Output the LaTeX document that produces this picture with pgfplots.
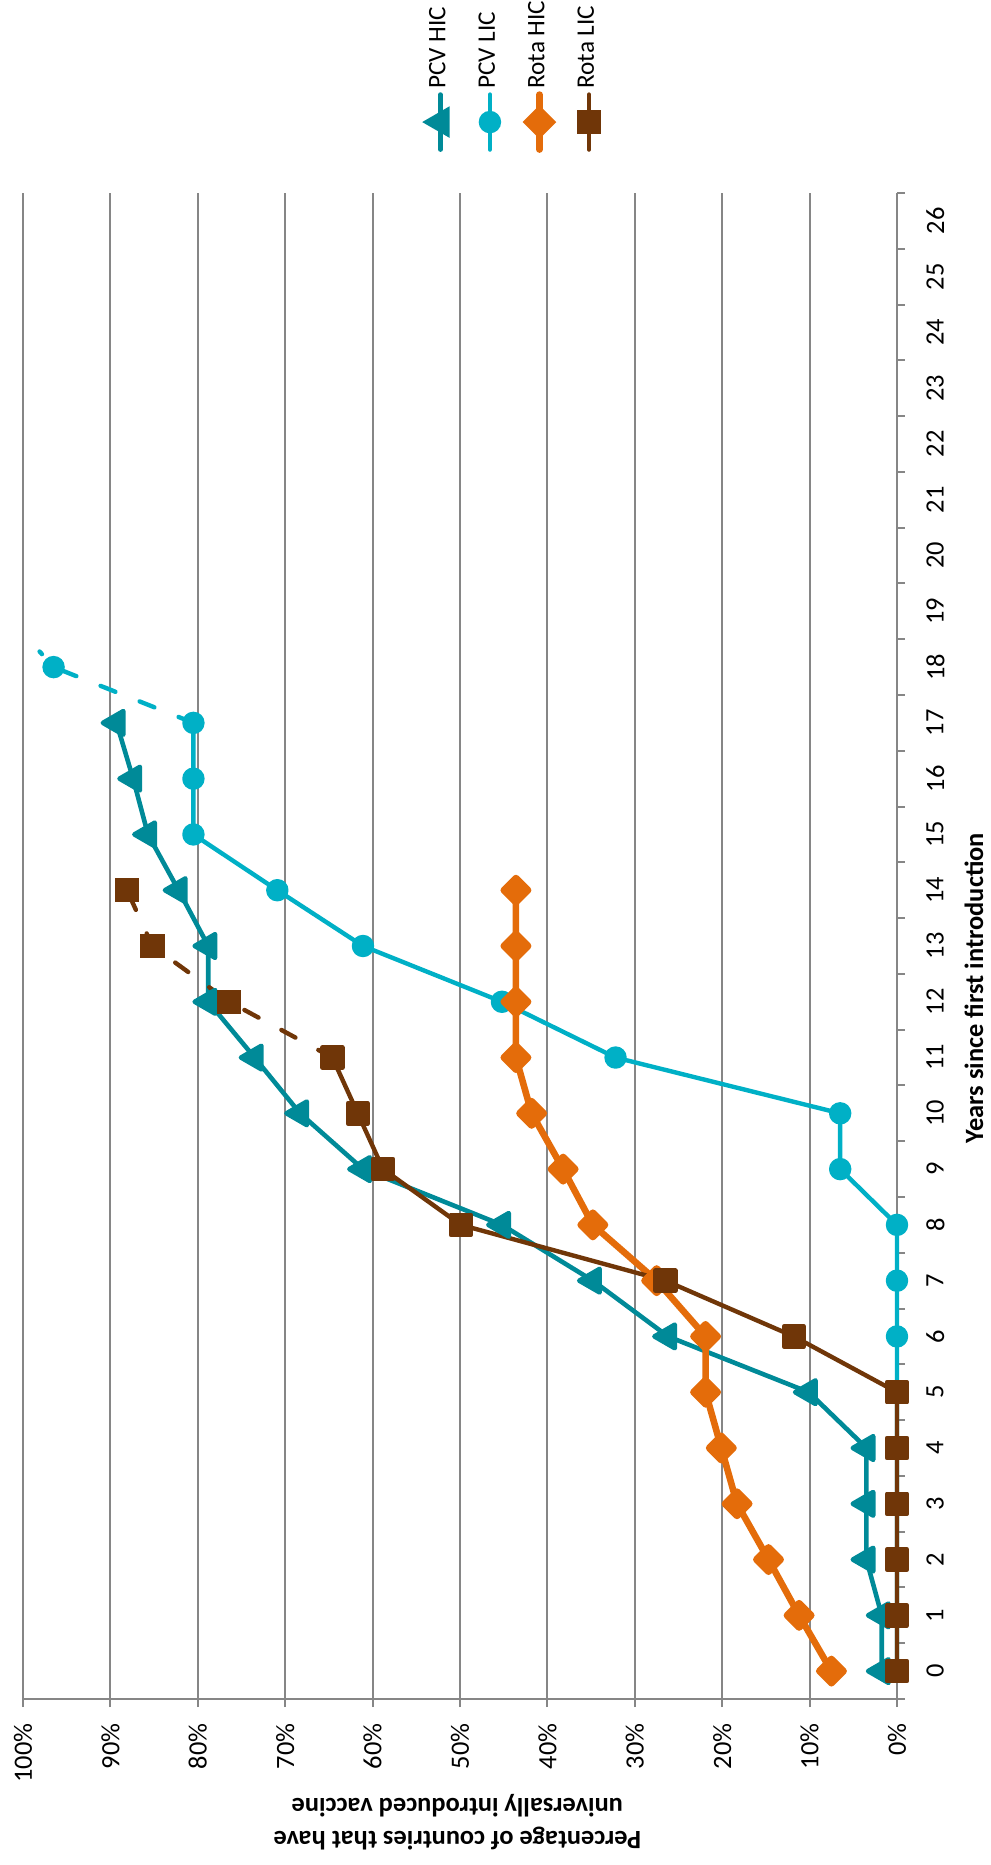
\documentclass[border=0pt]{standalone}
\usepackage{fontspec}
\setmainfont{Carlito}
\usepackage{pgfplots}
\pgfplotsset{compat=1.18}
\definecolor{pcvhic}{RGB}{0,138,152}
\definecolor{pcvlic}{RGB}{0,176,198}
\definecolor{rotahic}{RGB}{228,108,10}
\definecolor{rotalic}{RGB}{112,54,8}
\definecolor{gridgray}{RGB}{134,134,134}
\begin{document}
\begin{tikzpicture}
\useasboundingbox (-11.5pt,-83pt) rectangle (484pt,849.5pt);
\begin{axis}[
  at={(0pt,0pt)}, anchor=south west,
  scale only axis, width=437pt, height=753pt,
  xmin=0, xmax=100, ymin=-0.5, ymax=26.5,
  x dir=reverse,
  clip=false,
  axis x line*=bottom, axis y line*=right,
  axis line style={gridgray, line width=1pt},
  xtick={0,10,20,30,40,50,60,70,80,90,100},
  xticklabels={0\%,10\%,20\%,30\%,40\%,50\%,60\%,70\%,80\%,90\%,100\%},
  ytick={0,1,...,26},
  minor xtick={0,10,20,30,40,50,60,70,80,90,100},
  minor ytick={-0.5,0.5,...,26.5},
  major tick length=0pt, minor tick length=4pt,
  tick align=outside,
  tick style={gridgray, line width=1pt},
  xmajorgrids, major grid style={gridgray, line width=1pt},
  /pgf/number format/assume math mode=true,
  tick label style={font=\fontsize{13.2}{15}\selectfont},
  xticklabel style={rotate=90, anchor=east, inner sep=12pt},
  yticklabel style={rotate=90, anchor=north, inner sep=14.5pt},
  every axis x label/.style={at={(axis description cs:0.497,-0.0820)}, anchor=center, rotate=180, align=center, font=\bfseries\fontsize{13.2}{16.5}\selectfont},
  every axis y label/.style={at={(axis description cs:1.0881,0.472)}, anchor=center, rotate=90, font=\bfseries\fontsize{13.2}{15}\selectfont},
  xlabel={Percentage of countries that have\\universally introduced vaccine},
  ylabel={Years since first introduction},
  legend image code/.code={\begin{scope}[overlay]\draw[mark repeat=2,mark phase=2,#1] plot coordinates {(14pt,-3pt) (14pt,-16.75pt) (14pt,-30.5pt)};\end{scope}},
  legend columns=4,
  legend style={at={(axis description cs:0.4451,1.0651)}, anchor=south west, draw=none, fill=none, inner sep=0pt, column sep=6.75pt,
    cells={anchor=base west},
    nodes={inner sep=1.5pt, font=\fontsize{12.6}{15}\selectfont}},
]
\addlegendimage{pcvhic, line width=2.3pt, line cap=round, mark=triangle*, mark size=6.8pt, mark options={solid, rotate=90}}
\addlegendentry{\rotatebox{90}{PCV HIC}}
\addlegendimage{pcvlic, line width=2.2pt, line cap=round, mark=*, mark size=4.5pt, mark options={solid}}
\addlegendentry{\rotatebox{90}{PCV LIC}}
\addlegendimage{rotahic, line width=3.3pt, line cap=round, mark=square*, mark size=4.3pt, mark options={solid, rotate=45}}
\addlegendentry{\rotatebox{90}{Rota HIC}}
\addlegendimage{rotalic, line width=2.2pt, line cap=round, mark=square*, mark size=5pt, mark options={solid}}
\addlegendentry{\rotatebox{90}{Rota LIC}}

% PCV HIC
\addplot[forget plot, pcvhic, line width=2.3pt, line join=round, mark=triangle*, mark size=6.8pt, mark options={solid, rotate=90}] coordinates {
(1.75,0) (1.75,1) (3.5,2) (3.5,3) (3.5,4) (10.1,5) (26.2,6) (34.8,7) (45.2,8) (61.1,9) (68.3,10) (73.5,11) (78.8,12) (78.8,13) (82.2,14) (85.7,15) (87.4,16) (89.3,17)};
% PCV LIC
\addplot[forget plot, pcvlic, line width=2.2pt, line join=round, mark=*, mark size=4.5pt, mark options={solid}] coordinates {
(0,0) (0,1) (0,2) (0,3) (0,4) (0,5) (0,6) (0,7) (0,8) (6.5,9) (6.5,10) (32.2,11) (45.2,12) (61.1,13) (70.9,14) (80.5,15) (80.5,16) (80.5,17)};
\addplot[forget plot, pcvlic, line width=2.2pt, line cap=round, dash pattern=on 8pt off 13pt, mark=*, mark size=4.5pt, mark options={solid}, mark indices={2}] coordinates {
(80.5,17) (96.5,18) (98.1,18.28)};
% Rota HIC
\addplot[forget plot, rotahic, line width=3.3pt, line join=round, mark=square*, mark size=4.3pt, mark options={solid, rotate=45}] coordinates {
(7.5,0) (11.2,1) (14.7,2) (18.3,3) (20.1,4) (21.9,5) (21.9,6) (27.5,7) (34.8,8) (38.2,9) (41.8,10) (43.6,11) (43.6,12) (43.6,13) (43.6,14)};
% Rota LIC
\addplot[forget plot, rotalic, line width=2.2pt, line join=round, mark=square*, mark size=5pt, mark options={solid}] coordinates {
(0,0) (0,1) (0,2) (0,3) (0,4) (0,5) (11.8,6) (26.5,7) (49.9,8) (58.8,9) (61.7,10) (64.6,11)};
\addplot[forget plot, rotalic, line width=2.2pt, line cap=round, dash pattern=on 8pt off 13pt, mark=square*, mark size=5pt, mark options={solid}, mark indices={2,3,4}] coordinates {
(64.6,11) (76.4,12) (85.2,13) (88.1,14)};
\end{axis}
\end{tikzpicture}
\end{document}
